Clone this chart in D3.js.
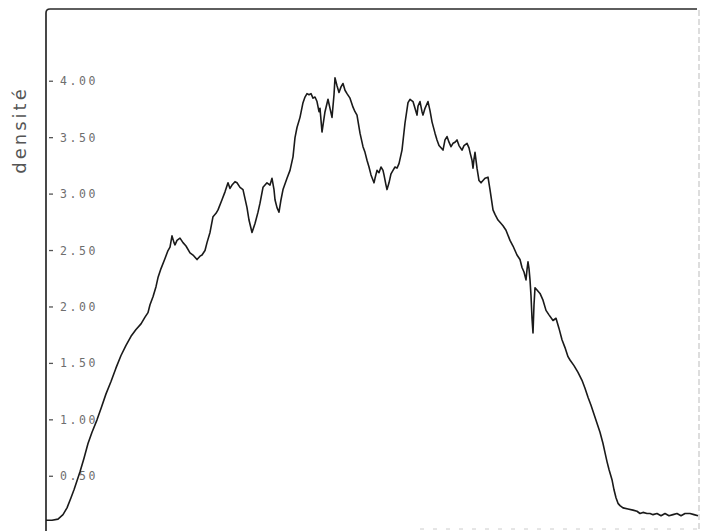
<!DOCTYPE html>
<html><head><meta charset="utf-8">
<script src="https://cdn.jsdelivr.net/npm/d3@7"></script>
<style>body{margin:0;background:#fff}svg{display:block}</style>
</head><body>
<script>
// position along the scan (arbitrary units) and measured density
const positions = [0,6,12,17,21,25,28,31,34,38,42,46,51,55,60,65,70,75,80,85,90,95,99,102,104,107,110,112,115,119,122,124,126,128,129,131,134,137,140,144,147,151,154,156,159,161,164,167,170,172,176,179,182,184,186,189,191,194,197,199,201,203,206,209,212,214,217,221,224,226,228,229,231,233,235,237,241,244,247,249,251,254,257,259,261,263,265,267,269,271,273,274,276,278,279,282,284,286,288,289,291,293,295,297,299,301,304,307,309,311,314,317,319,321,323,325,328,329,331,333,335,337,338,340,341,343,345,347,349,351,353,356,359,362,364,367,369,371,372,374,376,377,379,382,384,386,389,391,393,395,397,399,401,403,405,407,409,411,413,416,418,421,423,424,426,427,428,429,431,433,435,437,439,442,444,446,447,449,452,454,457,460,464,467,471,474,476,478,480,481,482,483,484,485,486,487,488,489,491,494,497,500,503,507,510,513,516,519,522,524,528,532,536,539,542,545,548,551,554,557,559,561,563,566,568,570,572,574,577,582,587,591,594,597,601,604,607,611,615,619,623,627,631,635,639,644,648,652];
const densities = [0.11,0.11,0.12,0.16,0.22,0.31,0.38,0.46,0.54,0.66,0.79,0.89,1.00,1.10,1.23,1.34,1.46,1.57,1.66,1.74,1.80,1.85,1.91,1.95,2.02,2.09,2.18,2.26,2.34,2.43,2.50,2.53,2.63,2.57,2.55,2.59,2.61,2.57,2.54,2.48,2.46,2.42,2.45,2.46,2.50,2.57,2.66,2.80,2.83,2.86,2.95,3.02,3.10,3.05,3.08,3.11,3.10,3.06,3.04,2.96,2.88,2.77,2.66,2.74,2.84,2.92,3.06,3.10,3.08,3.14,3.04,2.95,2.88,2.84,2.95,3.04,3.14,3.21,3.33,3.50,3.59,3.68,3.81,3.86,3.89,3.88,3.89,3.85,3.86,3.82,3.73,3.76,3.55,3.67,3.73,3.84,3.76,3.68,3.88,4.03,3.96,3.90,3.95,3.98,3.92,3.89,3.85,3.77,3.73,3.70,3.54,3.42,3.37,3.30,3.24,3.17,3.10,3.14,3.21,3.19,3.24,3.21,3.17,3.08,3.04,3.10,3.18,3.21,3.24,3.23,3.27,3.39,3.63,3.81,3.84,3.82,3.76,3.70,3.78,3.82,3.73,3.70,3.76,3.82,3.74,3.64,3.54,3.48,3.43,3.41,3.39,3.48,3.51,3.46,3.42,3.45,3.46,3.48,3.43,3.39,3.43,3.45,3.41,3.37,3.30,3.23,3.31,3.37,3.23,3.12,3.10,3.12,3.14,3.15,3.04,2.92,2.86,2.82,2.77,2.75,2.72,2.68,2.59,2.54,2.46,2.42,2.35,2.31,2.24,2.33,2.40,2.34,2.24,2.10,1.90,1.77,2.02,2.17,2.15,2.12,2.06,1.97,1.93,1.88,1.90,1.81,1.71,1.64,1.56,1.53,1.48,1.42,1.35,1.28,1.20,1.13,1.05,0.97,0.89,0.79,0.71,0.63,0.56,0.47,0.38,0.31,0.26,0.24,0.22,0.21,0.20,0.19,0.17,0.18,0.17,0.17,0.16,0.17,0.15,0.17,0.15,0.16,0.17,0.15,0.17,0.17,0.16,0.15];
const tickValues = [0.5,1.0,1.5,2.0,2.5,3.0,3.5,4.0];
const tickLabels = ["0.50","1.00","1.50","2.00","2.50","3.00","3.50","4.00"];
const yTitle = "densité";

const W = 702, H = 531;
const svg = d3.select("body").append("svg").attr("width", W).attr("height", H);

const x = d3.scaleLinear().domain([0, 654]).range([46, 700]);
const y = d3.scaleLinear().domain([0, 4.64]).range([532.7, 9]);

// frame: top border with rounded corner, left axis
svg.append("path")
  .attr("d", `M46,${H} L46,13 Q46,9 50,9 L697,9`)
  .attr("fill", "none").attr("stroke", "#2a2a2a").attr("stroke-width", 1.7);
// faint right border
svg.append("line").attr("x1", 699).attr("x2", 699).attr("y1", 10).attr("y2", H)
  .attr("stroke", "#bbb").attr("stroke-width", 1).attr("stroke-dasharray", "6,3");
// faint bottom marks
svg.append("line").attr("x1", 420).attr("x2", 700).attr("y1", 529).attr("y2", 529)
  .attr("stroke", "#ccc").attr("stroke-width", 1).attr("stroke-dasharray", "4,9");

// ticks and labels
const ticks = svg.append("g");
tickValues.forEach((v, i) => {
  ticks.append("line").attr("x1", 49).attr("x2", 53).attr("y1", y(v)).attr("y2", y(v))
    .attr("stroke", "#555").attr("stroke-width", 1.3);
  ticks.append("text").attr("x", 60).attr("y", y(v)).attr("dy", "0.35em")
    .attr("font-family", "DejaVu Sans Mono, monospace").attr("font-size", 11.5)
    .attr("letter-spacing", "2.6px").attr("fill", "#6e6e6e")
    .text(tickLabels[i]);
});

svg.append("text")
  .attr("transform", "translate(26,130) rotate(-90)")
  .attr("text-anchor", "middle")
  .attr("font-family", "DejaVu Sans, sans-serif").attr("font-size", 18)
  .attr("letter-spacing", "3px").attr("fill", "#555")
  .text(yTitle);

const data = positions.map((p, i) => [p, densities[i]]);
svg.append("path").datum(data)
  .attr("d", d3.line().x(d => x(d[0])).y(d => y(d[1])))
  .attr("fill", "none").attr("stroke", "#1a1a1a").attr("stroke-width", 1.6)
  .attr("stroke-linejoin", "round");
</script>
</body></html>
